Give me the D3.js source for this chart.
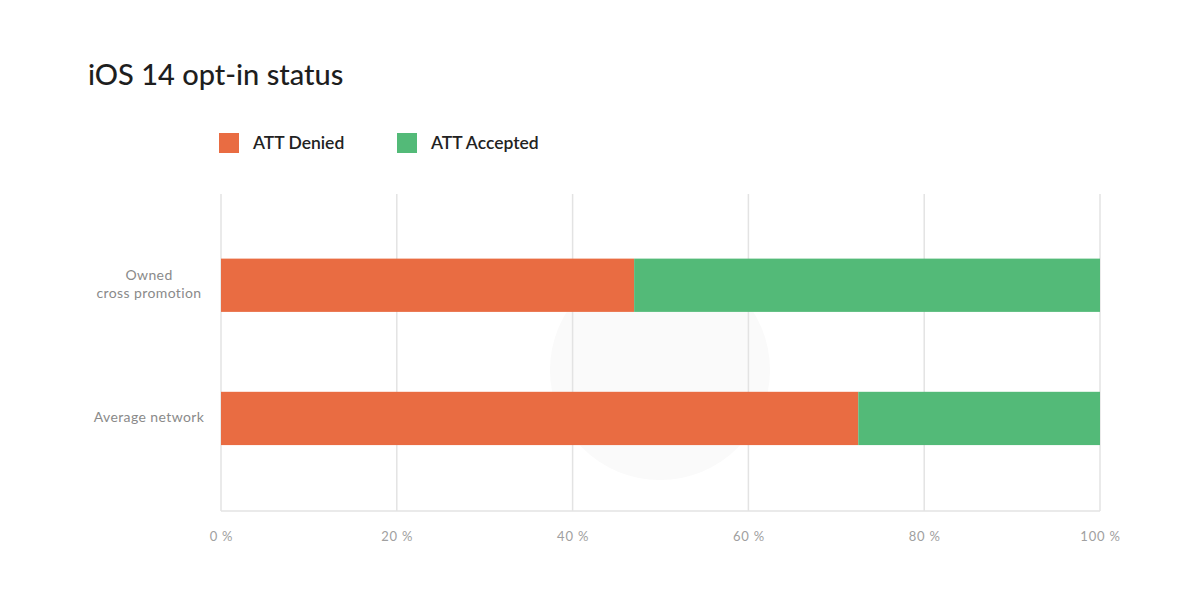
<!DOCTYPE html>
<html>
<head>
<meta charset="utf-8">
<script src="https://cdn.jsdelivr.net/npm/d3@7"></script>
<style>
  body { margin: 0; background: #fff; }
  #chart { width: 1200px; height: 598px; }
  text { font-family: Lato, "Noto Sans", sans-serif; }
</style>
</head>
<body>
<div id="chart"></div>
<script>
const categories = [["Owned", "cross promotion"], ["Average network"]];
const categoryKeys = ["owned", "average"];
const deniedValues = [47, 72.5];
const acceptedValues = [53, 27.5];
const tickValues = [0, 20, 40, 60, 80, 100];
const seriesNames = ["ATT Denied", "ATT Accepted"];
const seriesColors = ["#E96C42", "#53BA78"];

function drawChart() {
    const width = 1200, height = 598;
    const svg = d3.select("#chart").append("svg")
        .attr("width", width)
        .attr("height", height);

    const margin = { top: 194, right: 100, bottom: 87, left: 221 };

    // faint watermark behind the plot
    svg.append("circle")
        .attr("cx", 660).attr("cy", 370).attr("r", 110)
        .attr("fill", "#fafafa");

    const x = d3.scaleLinear()
        .domain([0, 100])
        .range([margin.left, width - margin.right]);

    const y = d3.scaleBand()
        .domain(categoryKeys)
        .range([margin.top, height - margin.bottom])
        .paddingInner(0.6)
        .paddingOuter(0.49)
        .align(0.495);

    // gridlines
    svg.append("g")
        .selectAll("line")
        .data(tickValues)
        .join("line")
        .attr("x1", d => x(d)).attr("x2", d => x(d))
        .attr("y1", margin.top).attr("y2", height - margin.bottom)
        .attr("stroke", "#e3e3e3")
        .attr("stroke-width", 1.5);

    svg.append("line")
        .attr("x1", x(0)).attr("x2", x(100))
        .attr("y1", height - margin.bottom).attr("y2", height - margin.bottom)
        .attr("stroke", "#e3e3e3")
        .attr("stroke-width", 1.5);

    // x axis labels
    const xAxis = svg.append("g")
        .attr("transform", `translate(0,${height - margin.bottom})`)
        .call(d3.axisBottom(x).tickValues(tickValues).tickSize(0).tickPadding(21).tickFormat(d => d + " %"));
    xAxis.select(".domain").remove();
    xAxis.selectAll("text")
        .style("font-size", "13px")
        .style("letter-spacing", "0.8px")
        .style("fill", "#a0a0a0")
        .style("font-family", "Lato, sans-serif");

    // stacked bars
    const stacked = categoryKeys.map((k, i) => ({ key: k, denied: deniedValues[i], accepted: acceptedValues[i] }));
    const stack = d3.stack().keys(["denied", "accepted"])(stacked);

    svg.append("g")
        .selectAll("g")
        .data(stack)
        .join("g")
        .attr("fill", (d, i) => seriesColors[i])
        .selectAll("rect")
        .data(d => d)
        .join("rect")
        .attr("x", d => x(d[0]))
        .attr("y", d => y(d.data.key))
        .attr("width", d => x(d[1]) - x(d[0]))
        .attr("height", y.bandwidth());

    // y labels
    const ylab = svg.append("g");
    categoryKeys.forEach((k, i) => {
        const lines = categories[i];
        const cy = y(k) + y.bandwidth() / 2;
        const lh = 18;
        const t = ylab.append("text")
            .attr("text-anchor", "middle")
            .attr("x", 149)
            .attr("y", cy - (lines.length - 1) * lh / 2 + 4)
            .style("font-size", "14px")
            .style("letter-spacing", "0.4px")
            .style("fill", "#8a8a8a");
        lines.forEach((l, j) => {
            t.append("tspan")
                .attr("x", 149)
                .attr("dy", j === 0 ? 0 : lh)
                .text(l);
        });
    });

    // title
    svg.append("text")
        .attr("x", 88)
        .attr("y", 85)
        .style("font-size", "29px")
        .style("font-weight", 500)
        .style("fill", "#1e1e1e")
        .text("iOS 14 opt-in status");

    // legend
    const legendX = [219, 397];
    const legend = svg.append("g")
        .selectAll("g")
        .data(seriesNames)
        .join("g")
        .attr("transform", (d, i) => `translate(${legendX[i]},133)`);
    legend.append("rect")
        .attr("width", 20).attr("height", 20)
        .attr("fill", (d, i) => seriesColors[i]);
    legend.append("text")
        .attr("x", 34)
        .attr("y", 16)
        .style("font-size", "17.5px")
        .style("font-weight", 600)
        .style("fill", "#222")
        .text(d => d);
}

drawChart();
</script>
</body>
</html>
